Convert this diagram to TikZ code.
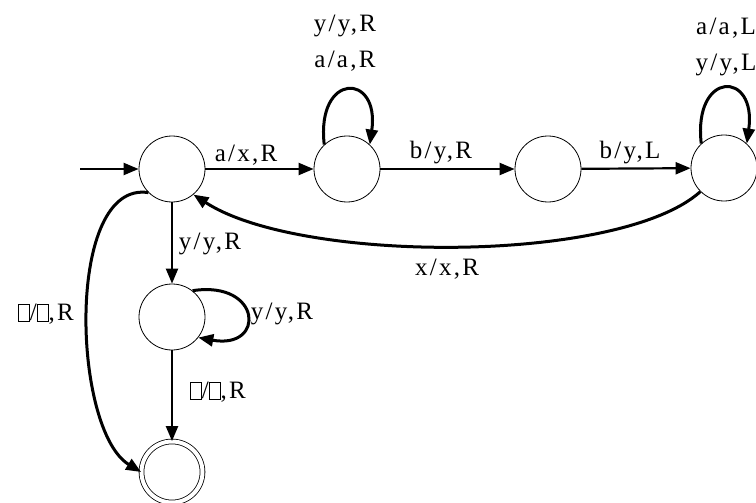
\documentclass[tikz,border=0pt]{standalone}
\usepackage{fontspec}
\setmainfont{Liberation Serif}[LetterSpace=9]
\usetikzlibrary{arrows.meta}
\newcommand{\blk}{{\setlength{\fboxsep}{0pt}\setlength{\fboxrule}{0.9pt}\fbox{\rule{0pt}{0.64em}\hspace{0.4em}}}}
\tikzset{
  st/.style={circle, draw, line width=0.8pt, minimum size=66pt, inner sep=0pt},
  acc/.style={circle, draw, line width=0.8pt, double, double distance=4pt, minimum size=61pt, inner sep=0pt},
  arr/.style={line width=2.2pt, -{Triangle[length=15pt,width=12pt]}},
  carr/.style={line width=3pt, -{Triangle[length=15pt,width=12pt]}},
  lab/.style={inner sep=0pt, font=\fontsize{25}{36}\selectfont, align=center}
}
\begin{document}
\begin{tikzpicture}[x=1pt,y=-1pt]
\useasboundingbox (0,0) rectangle (756,503);
\node[st] (q0) at (172,169) {};
\node[st] (q1) at (347,169) {};
\node[st] (q2) at (548,169) {};
\node[st] (q3) at (724,168) {};
\node[st] (q4) at (172,317) {};
\node[acc] (q5) at (172,472) {};
\coordinate (start) at (80,169);

\draw[arr] (start) -- (q0);
\draw[arr] (q0) -- (q1);
\draw[arr] (q1) -- (q2);
\draw[arr] (q2) -- (q3);
\draw[arr] (q0) -- (q4);
\draw[arr] (q4) -- (q5);

\draw[carr] (q1.133) .. controls (316,72) and (380,72) .. (q1.47);
\draw[carr] (q3.133) .. controls (693,70) and (757,70) .. (q3.47);
\draw[carr] (q4.52) .. controls (262,280) and (266,350) .. (q4.-38);
\draw[carr] (q3.225) .. controls (620,264) and (300,264) .. (q0.310);
\draw[carr] (q0.225) .. controls (65,180) and (72,430) .. (q5.west);

\node[lab] (l01) at (246,155) {a/x,R};
\node[lab] (l12) at (441,153) {b/y,R};
\node[lab] (l23) at (630,153) {b/y,L};
\node[lab] (l11) at (345,43) {y/y,R\\a/a,R};
\node[lab] (l33) at (726,47) {a/a,L\\y/y,L};
\node[lab] (l30) at (447,269) {x/x,R};
\node[lab] (l04) at (210,244) {y/y,R};
\node[lab] (l44) at (282,314) {y/y,R};
\node[lab] (l45) at (218,392) {\blk/\blk,R};
\node[lab] (l05) at (46,314) {\blk/\blk,R};
\end{tikzpicture}
\end{document}
